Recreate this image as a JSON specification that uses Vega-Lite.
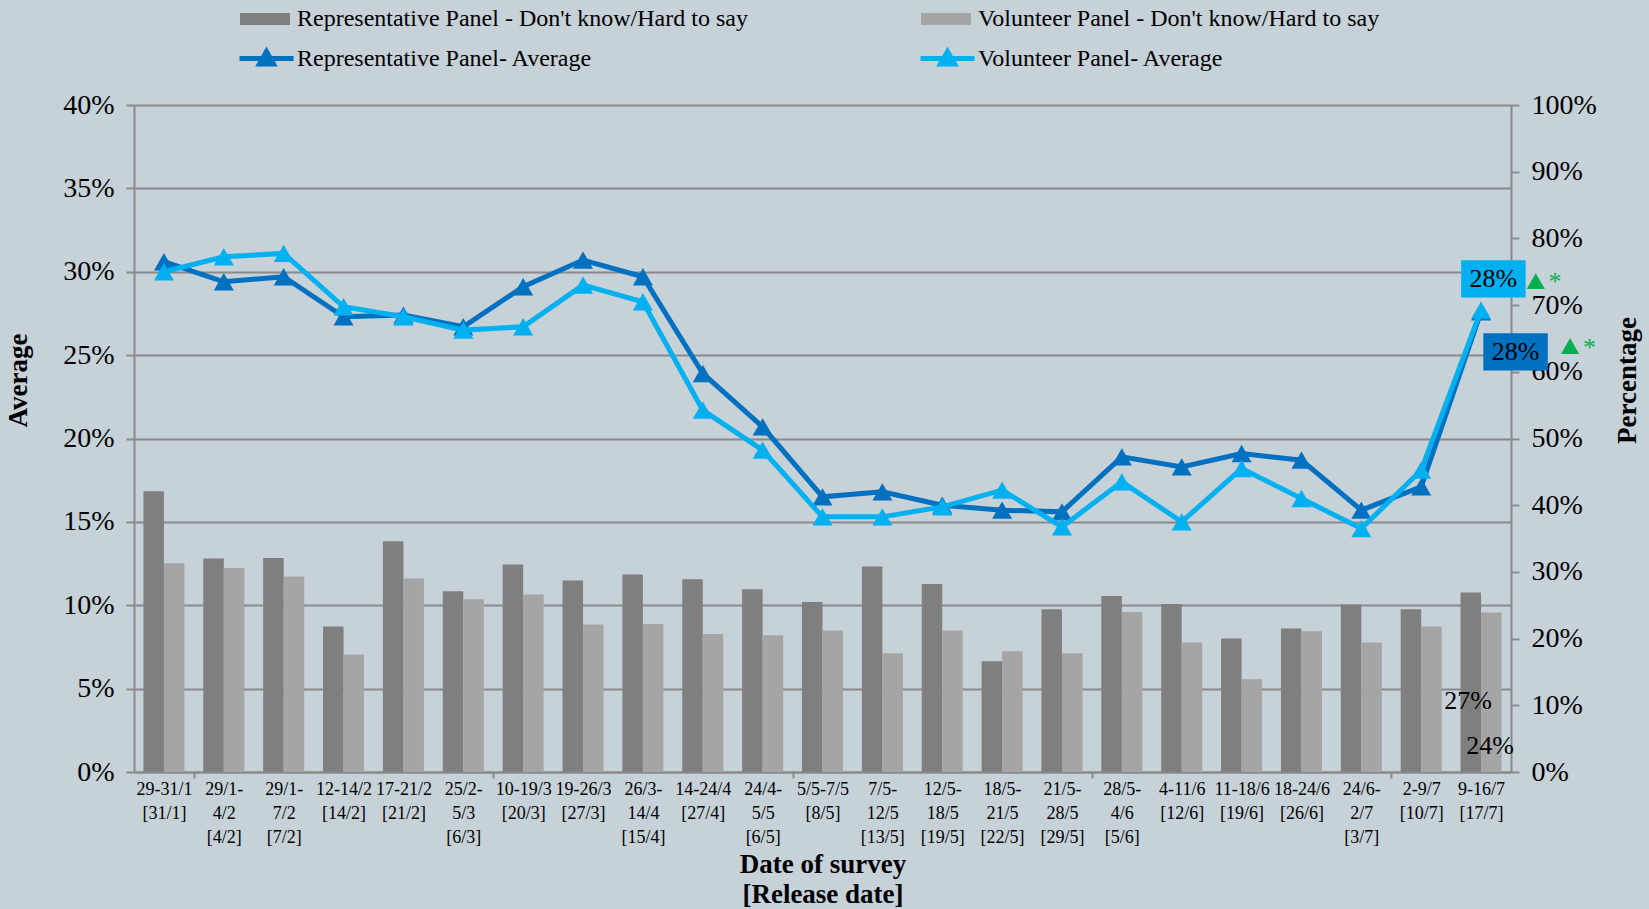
{
  "$schema": "https://vega.github.io/schema/vega-lite/v6.json",
  "width": 1377,
  "height": 667,
  "autosize": {"type": "none"},
  "padding": {"left": 134, "top": 105, "right": 138, "bottom": 137},
  "background": "#C6D1D8",
  "config": {
    "view": {"stroke": null},
    "font": "Liberation Serif",
    "axis": {
      "domainColor": "#8A8A8A", "domainWidth": 2,
      "tickColor": "#8A8A8A", "tickWidth": 2, "tickSize": 8,
      "gridColor": "#8A8A8A", "gridWidth": 2,
      "labelFont": "Liberation Serif", "labelColor": "#000000",
      "titleFont": "Liberation Serif", "titleFontWeight": "bold", "titleColor": "#000000"
    },
    "legend": {
      "orient": "none", "padding": 0, "labelFont": "Liberation Serif", "labelFontSize": 24,
      "labelColor": "#000000", "labelOffset": 7, "labelLimit": 800
    }
  },
  "data": {"values": [
    {"date":"29-31/1|[31/1]","rep_dk":0.421,"vol_dk":0.313,"rep_avg":0.306,"vol_avg":0.300},
    {"date":"29/1-|4/2|[4/2]","rep_dk":0.320,"vol_dk":0.306,"rep_avg":0.294,"vol_avg":0.309},
    {"date":"29/1-|7/2|[7/2]","rep_dk":0.321,"vol_dk":0.293,"rep_avg":0.297,"vol_avg":0.311},
    {"date":"12-14/2|[14/2]","rep_dk":0.218,"vol_dk":0.176,"rep_avg":0.273,"vol_avg":0.279},
    {"date":"17-21/2|[21/2]","rep_dk":0.346,"vol_dk":0.290,"rep_avg":0.274,"vol_avg":0.273},
    {"date":"25/2-|5/3|[6/3]","rep_dk":0.271,"vol_dk":0.259,"rep_avg":0.267,"vol_avg":0.265},
    {"date":"10-19/3|[20/3]","rep_dk":0.311,"vol_dk":0.266,"rep_avg":0.291,"vol_avg":0.267},
    {"date":"19-26/3|[27/3]","rep_dk":0.287,"vol_dk":0.221,"rep_avg":0.307,"vol_avg":0.292},
    {"date":"26/3-|14/4|[15/4]","rep_dk":0.296,"vol_dk":0.222,"rep_avg":0.297,"vol_avg":0.282},
    {"date":"14-24/4|[27/4]","rep_dk":0.289,"vol_dk":0.207,"rep_avg":0.239,"vol_avg":0.217},
    {"date":"24/4-|5/5|[6/5]","rep_dk":0.274,"vol_dk":0.205,"rep_avg":0.207,"vol_avg":0.193},
    {"date":"5/5-7/5|[8/5]","rep_dk":0.255,"vol_dk":0.212,"rep_avg":0.165,"vol_avg":0.153},
    {"date":"7/5-|12/5|[13/5]","rep_dk":0.308,"vol_dk":0.178,"rep_avg":0.168,"vol_avg":0.153},
    {"date":"12/5-|18/5|[19/5]","rep_dk":0.282,"vol_dk":0.212,"rep_avg":0.160,"vol_avg":0.159},
    {"date":"18/5-|21/5|[22/5]","rep_dk":0.166,"vol_dk":0.181,"rep_avg":0.157,"vol_avg":0.169},
    {"date":"21/5-|28/5|[29/5]","rep_dk":0.244,"vol_dk":0.178,"rep_avg":0.156,"vol_avg":0.147},
    {"date":"28/5-|4/6|[5/6]","rep_dk":0.264,"vol_dk":0.240,"rep_avg":0.189,"vol_avg":0.174},
    {"date":"4-11/6|[12/6]","rep_dk":0.252,"vol_dk":0.194,"rep_avg":0.183,"vol_avg":0.150},
    {"date":"11-18/6|[19/6]","rep_dk":0.200,"vol_dk":0.139,"rep_avg":0.191,"vol_avg":0.182},
    {"date":"18-24/6|[26/6]","rep_dk":0.215,"vol_dk":0.211,"rep_avg":0.187,"vol_avg":0.164},
    {"date":"24/6-|2/7|[3/7]","rep_dk":0.251,"vol_dk":0.194,"rep_avg":0.157,"vol_avg":0.146},
    {"date":"2-9/7|[10/7]","rep_dk":0.244,"vol_dk":0.218,"rep_avg":0.171,"vol_avg":0.181},
    {"date":"9-16/7|[17/7]","rep_dk":0.269,"vol_dk":0.239,"rep_avg":0.276,"vol_avg":0.277}
  ]},
  "resolve": {
    "scale": {"y": "independent", "color": "independent"},
    "axis": {"y": "independent"},
    "legend": {"color": "independent"}
  },
  "layer": [
    {
      "transform": [{"fold": ["rep_dk", "vol_dk"], "as": ["panel", "value"]}, {"filter": "datum.panel == 'rep_dk'"}],
      "mark": {"type": "bar", "opacity": 1},
      "encoding": {
        "x": {"field": "date", "type": "nominal", "sort": null,
              "scale": {"paddingInner": 0, "paddingOuter": 0},
              "axis": {"orient": "bottom", "labelExpr": "split(datum.label, '|')", "labelAngle": 0,
                       "ticks": true, "tickBand": "extent", "tickSize": 6,
                       "tickOpacity": {"condition": {"test": "indexof(['29-31/1|[31/1]', '25/2-|5/3|[6/3]', '24/4-|5/5|[6/5]', '21/5-|28/5|[29/5]', '24/6-|2/7|[3/7]'], datum.value) >= 0", "value": 1}, "value": 0},
                       "labelFontSize": 18, "labelLineHeight": 24, "labelPadding": 2,
                       "labelBaseline": "top", "labelLimit": 0,
                       "title": ["Date of survey", "[Release date]"], "titleFontSize": 27, "titleLineHeight": 30,
                       "titlePadding": 5}},
        "xOffset": {"field": "panel", "type": "nominal", "scale": {"domain": ["rep_dk", "vol_dk"], "paddingInner": 0, "paddingOuter": 0.46}},
        "y": {"field": "value", "type": "quantitative", "scale": {"domain": [0, 1], "nice": false},
              "axis": {"orient": "right", "values": [0,0.1,0.2,0.3,0.4,0.5,0.6,0.7,0.8,0.9,1.0], "format": ".0%",
                       "grid": false, "labelFontSize": 28, "labelPadding": 12,
                       "title": "Percentage", "titleFontSize": 27, "titlePadding": 18,
                       "titleAngle": 270, "titleBaseline": "top", "titleY": 275}},
        "color": {"datum": "Representative Panel - Don't know/Hard to say", "type": "nominal",
                  "scale": {"range": ["#7F7F7F"]},
                  "legend": {"title": null, "legendX": 106, "legendY": -111, "symbolSize": 2500,
                             "symbolType": "M-1,-0.24L1,-0.24L1,0.24L-1,0.24Z", "symbolStrokeWidth": 0}}
      }
    },
    {
      "transform": [{"fold": ["rep_dk", "vol_dk"], "as": ["panel", "value"]}, {"filter": "datum.panel == 'vol_dk'"}],
      "mark": {"type": "bar", "opacity": 1},
      "encoding": {
        "x": {"field": "date", "type": "nominal", "sort": null},
        "xOffset": {"field": "panel", "type": "nominal", "scale": {"domain": ["rep_dk", "vol_dk"]}},
        "y": {"field": "value", "type": "quantitative", "scale": {"domain": [0, 1], "nice": false}, "axis": null},
        "color": {"datum": "Volunteer Panel - Don't know/Hard to say", "type": "nominal",
                  "scale": {"range": ["#A5A5A5"]},
                  "legend": {"title": null, "legendX": 787, "legendY": -111, "symbolSize": 2500,
                             "symbolType": "M-1,-0.24L1,-0.24L1,0.24L-1,0.24Z", "symbolStrokeWidth": 0}}
      }
    },
    {
      "mark": {"type": "line", "strokeWidth": 5, "point": {"shape": "triangle-up", "size": 400, "filled": true, "opacity": 1}},
      "encoding": {
        "x": {"field": "date", "type": "nominal", "sort": null},
        "y": {"field": "rep_avg", "type": "quantitative", "scale": {"domain": [0, 0.4], "nice": false},
              "axis": {"orient": "left", "values": [0,0.05,0.1,0.15,0.2,0.25,0.3,0.35,0.4], "format": ".0%",
                       "grid": true, "labelFontSize": 28, "labelPadding": 12,
                       "title": "Average", "titleFontSize": 27, "titlePadding": 30, "titleY": 275}},
        "color": {"datum": "Representative Panel- Average", "type": "nominal",
                  "scale": {"range": ["#0070C0"]},
                  "legend": {"title": null, "legendX": 103, "legendY": -76, "symbolSize": 2916, "labelOffset": 1,
                             "symbolType": "M-1,0L1,0M-0.26,0.2L0,-0.26L0.26,0.2Z", "symbolStrokeWidth": 5,
                             "encode": {"symbols": {"update": {"fill": {"value": "#0070C0"}, "stroke": {"value": "#0070C0"}, "strokeWidth": {"value": 5}, "opacity": {"value": 1}, "shape": {"value": "M-1,0L1,0M-0.26,0.2L0,-0.26L0.26,0.2Z"}}}}}}
      }
    },
    {
      "mark": {"type": "line", "strokeWidth": 5, "point": {"shape": "triangle-up", "size": 400, "filled": true, "opacity": 1}},
      "encoding": {
        "x": {"field": "date", "type": "nominal", "sort": null},
        "y": {"field": "vol_avg", "type": "quantitative", "scale": {"domain": [0, 0.4], "nice": false}, "axis": null},
        "color": {"datum": "Volunteer Panel- Average", "type": "nominal",
                  "scale": {"range": ["#00B0F0"]},
                  "legend": {"title": null, "legendX": 784, "legendY": -76, "symbolSize": 2916, "labelOffset": 1,
                             "symbolType": "M-1,0L1,0M-0.26,0.2L0,-0.26L0.26,0.2Z", "symbolStrokeWidth": 5,
                             "encode": {"symbols": {"update": {"fill": {"value": "#00B0F0"}, "stroke": {"value": "#00B0F0"}, "strokeWidth": {"value": 5}, "opacity": {"value": 1}, "shape": {"value": "M-1,0L1,0M-0.26,0.2L0,-0.26L0.26,0.2Z"}}}}}}
      }
    },
    {
      "transform": [{"filter": "datum.date == '9-16/7|[17/7]'"}],
      "mark": {"type": "point", "shape": "M-1,-0.577L1,-0.577L1,0.577L-1,0.577Z", "size": 4160, "filled": true, "color": "#0070C0", "opacity": 1, "xOffset": 34.5, "yOffset": 40},
      "encoding": {
        "x": {"field": "date", "type": "nominal", "sort": null},
        "y": {"field": "rep_avg", "type": "quantitative", "scale": {"domain": [0, 0.4], "nice": false}, "axis": null}
      }
    },
    {
      "transform": [{"filter": "datum.date == '9-16/7|[17/7]'"}],
      "mark": {"type": "text", "fontSize": 26, "font": "Liberation Serif", "color": "#000000", "dx": 34.5, "dy": 40, "baseline": "middle", "align": "center"},
      "encoding": {
        "x": {"field": "date", "type": "nominal", "sort": null},
        "y": {"field": "rep_avg", "type": "quantitative", "scale": {"domain": [0, 0.4], "nice": false}, "axis": null},
        "text": {"field": "rep_avg", "format": ".0%"}
      }
    },
    {
      "transform": [{"filter": "datum.date == '9-16/7|[17/7]'"}],
      "mark": {"type": "point", "shape": "triangle-up", "size": 330, "filled": true, "color": "#00B050", "opacity": 1, "xOffset": 89, "yOffset": 34.3},
      "encoding": {
        "x": {"field": "date", "type": "nominal", "sort": null},
        "y": {"field": "rep_avg", "type": "quantitative", "scale": {"domain": [0, 0.4], "nice": false}, "axis": null}
      }
    },
    {
      "transform": [{"filter": "datum.date == '9-16/7|[17/7]'"}],
      "mark": {"type": "text", "fontSize": 26, "font": "Liberation Serif", "color": "#00B050", "dx": 108.5, "dy": 44, "baseline": "alphabetic", "align": "center", "text": "*"},
      "encoding": {
        "x": {"field": "date", "type": "nominal", "sort": null},
        "y": {"field": "rep_avg", "type": "quantitative", "scale": {"domain": [0, 0.4], "nice": false}, "axis": null}
      }
    },
    {
      "transform": [{"filter": "datum.date == '9-16/7|[17/7]'"}],
      "mark": {"type": "point", "shape": "M-1,-0.577L1,-0.577L1,0.577L-1,0.577Z", "size": 4160, "filled": true, "color": "#00B0F0", "opacity": 1, "xOffset": 12.3, "yOffset": -31.3},
      "encoding": {
        "x": {"field": "date", "type": "nominal", "sort": null},
        "y": {"field": "vol_avg", "type": "quantitative", "scale": {"domain": [0, 0.4], "nice": false}, "axis": null}
      }
    },
    {
      "transform": [{"filter": "datum.date == '9-16/7|[17/7]'"}],
      "mark": {"type": "text", "fontSize": 26, "font": "Liberation Serif", "color": "#000000", "dx": 12.3, "dy": -31.3, "baseline": "middle", "align": "center"},
      "encoding": {
        "x": {"field": "date", "type": "nominal", "sort": null},
        "y": {"field": "vol_avg", "type": "quantitative", "scale": {"domain": [0, 0.4], "nice": false}, "axis": null},
        "text": {"field": "vol_avg", "format": ".0%"}
      }
    },
    {
      "transform": [{"filter": "datum.date == '9-16/7|[17/7]'"}],
      "mark": {"type": "point", "shape": "triangle-up", "size": 330, "filled": true, "color": "#00B050", "opacity": 1, "xOffset": 54.7, "yOffset": -29},
      "encoding": {
        "x": {"field": "date", "type": "nominal", "sort": null},
        "y": {"field": "vol_avg", "type": "quantitative", "scale": {"domain": [0, 0.4], "nice": false}, "axis": null}
      }
    },
    {
      "transform": [{"filter": "datum.date == '9-16/7|[17/7]'"}],
      "mark": {"type": "text", "fontSize": 26, "font": "Liberation Serif", "color": "#00B050", "dx": 74, "dy": -20.5, "baseline": "alphabetic", "align": "center", "text": "*"},
      "encoding": {
        "x": {"field": "date", "type": "nominal", "sort": null},
        "y": {"field": "vol_avg", "type": "quantitative", "scale": {"domain": [0, 0.4], "nice": false}, "axis": null}
      }
    },
    {
      "transform": [{"filter": "datum.date == '9-16/7|[17/7]'"}],
      "mark": {"type": "text", "fontSize": 26, "font": "Liberation Serif", "color": "#000000", "dx": -13, "dy": 108, "baseline": "middle", "align": "center"},
      "encoding": {
        "x": {"field": "date", "type": "nominal", "sort": null},
        "y": {"field": "rep_dk", "type": "quantitative", "scale": {"domain": [0, 1], "nice": false}, "axis": null},
        "text": {"field": "rep_dk", "format": ".0%"}
      }
    },
    {
      "transform": [{"filter": "datum.date == '9-16/7|[17/7]'"}],
      "mark": {"type": "text", "fontSize": 26, "font": "Liberation Serif", "color": "#000000", "dx": 9, "dy": 133, "baseline": "middle", "align": "center"},
      "encoding": {
        "x": {"field": "date", "type": "nominal", "sort": null},
        "y": {"field": "vol_dk", "type": "quantitative", "scale": {"domain": [0, 1], "nice": false}, "axis": null},
        "text": {"field": "vol_dk", "format": ".0%"}
      }
    }
  ]
}
